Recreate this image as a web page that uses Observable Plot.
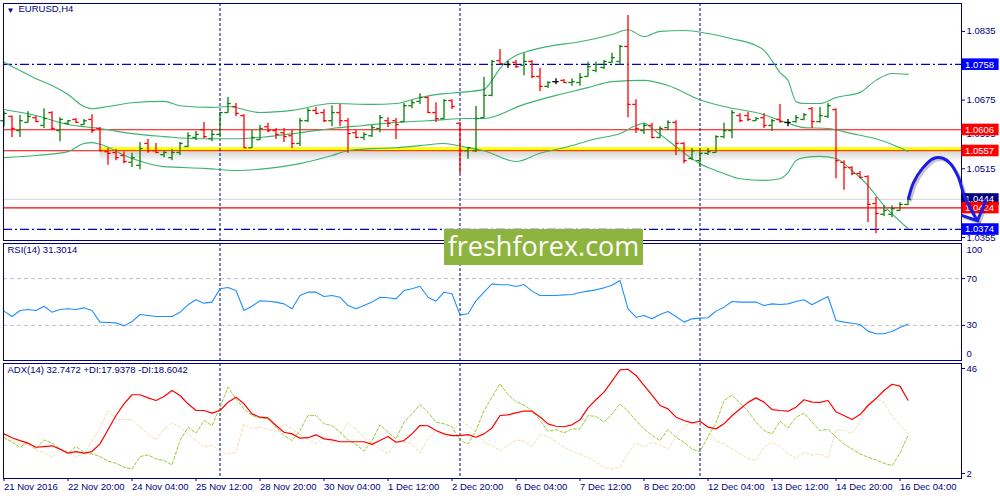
<!DOCTYPE html>
<html>
<head>
<meta charset="utf-8">
<script src="https://cdn.jsdelivr.net/npm/d3@7"></script>
<script src="https://cdn.jsdelivr.net/npm/@observablehq/plot@0.6"></script>
<style>
  body { margin: 0; background: #fff; }
  #chart { position: relative; width: 1000px; height: 500px; overflow: hidden; background: #fff; }
  #chart .panel { position: absolute; left: 0; }
  .wm { position: absolute; left: 444px; top: 229px; width: 199px; height: 36px; background: #8db43e;
        color: #fff; font: 27px "Open Sans", sans-serif; line-height: 33px; text-align: center; }
</style>
</head>
<body>
<div id="chart">
  <div class="panel" id="main" style="top:0"></div>
  <div class="panel" id="rsi" style="top:242px"></div>
  <div class="panel" id="adx" style="top:362px"></div>
  <div class="wm">freshforex.com</div>
</div>
<script>
// EURUSD H4 bars, one per 4 hours from 21 Nov 12:00 to 16 Dec 08:00
const barOpen = [1.0627,1.0637,1.0604,1.0623,1.0634,1.0616,1.0646,1.0604,1.0621,1.0630,
  1.0618,1.0630,1.0609,1.0555,1.0553,1.0546,1.0530,1.0523,1.0574,1.0557,
  1.0548,1.0541,1.0553,1.0567,1.0588,1.0606,1.0585,1.0595,1.0646,1.0660,
  1.0639,1.0564,1.0583,1.0613,1.0604,1.0599,1.0592,1.0574,1.0627,1.0651,
  1.0646,1.0627,1.0646,1.0627,1.0599,1.0588,1.0592,1.0609,1.0627,1.0627,
  1.0625,1.0662,1.0672,1.0681,1.0646,1.0632,1.0674,1.0621,1.0557,1.0557,
  1.0634,1.0686,1.0767,1.0758,1.0763,1.0756,1.0765,1.0730,1.0707,1.0718,
  1.0721,1.0716,1.0716,1.0730,1.0744,1.0751,1.0763,1.0765,1.0800,1.0665,
  1.0604,1.0616,1.0588,1.0611,1.0623,1.0574,1.0539,1.0534,1.0551,1.0553,
  1.0590,1.0604,1.0639,1.0639,1.0627,1.0634,1.0616,1.0630,1.0623,1.0625,
  1.0630,1.0655,1.0625,1.0637,1.0653,1.0530,1.0518,1.0504,1.0497,1.0434,
  1.0409,1.0409,1.0418,1.0432];
const barHigh = [1.0648,1.0638,1.0639,1.0648,1.0637,1.0655,1.0648,1.0634,1.0627,1.0632,
  1.0630,1.0641,1.0611,1.0562,1.0560,1.0555,1.0551,1.0576,1.0583,1.0574,
  1.0557,1.0560,1.0576,1.0599,1.0602,1.0623,1.0604,1.0646,1.0681,1.0667,
  1.0641,1.0604,1.0616,1.0621,1.0609,1.0609,1.0606,1.0632,1.0655,1.0658,
  1.0653,1.0662,1.0665,1.0632,1.0604,1.0599,1.0616,1.0639,1.0634,1.0632,
  1.0667,1.0674,1.0690,1.0683,1.0669,1.0676,1.0676,1.0623,1.0564,1.0660,
  1.0728,1.0767,1.0793,1.0765,1.0767,1.0784,1.0767,1.0749,1.0718,1.0725,
  1.0723,1.0725,1.0737,1.0763,1.0763,1.0767,1.0784,1.0802,1.0872,1.0676,
  1.0621,1.0621,1.0613,1.0627,1.0627,1.0576,1.0562,1.0557,1.0562,1.0592,
  1.0621,1.0651,1.0644,1.0646,1.0634,1.0644,1.0630,1.0665,1.0630,1.0639,
  1.0644,1.0658,1.0658,1.0667,1.0655,1.0534,1.0520,1.0509,1.0499,1.0448,
  1.0429,1.0429,1.0436,1.0446];
const barLow = [1.0613,1.0588,1.0588,1.0621,1.0623,1.0609,1.0604,1.0578,1.0616,1.0621,
  1.0616,1.0597,1.0555,1.0523,1.0534,1.0527,1.0518,1.0513,1.0551,1.0551,
  1.0541,1.0534,1.0546,1.0564,1.0581,1.0585,1.0578,1.0588,1.0644,1.0637,
  1.0562,1.0562,1.0581,1.0599,1.0583,1.0576,1.0562,1.0567,1.0623,1.0641,
  1.0623,1.0613,1.0613,1.0551,1.0585,1.0581,1.0588,1.0599,1.0611,1.0583,
  1.0623,1.0655,1.0665,1.0644,1.0623,1.0630,1.0653,1.0504,1.0537,1.0553,
  1.0632,1.0683,1.0760,1.0749,1.0749,1.0732,1.0725,1.0695,1.0702,1.0711,
  1.0714,1.0707,1.0707,1.0728,1.0739,1.0746,1.0760,1.0756,1.0634,1.0597,
  1.0595,1.0585,1.0585,1.0604,1.0546,1.0527,1.0534,1.0518,1.0546,1.0551,
  1.0585,1.0585,1.0623,1.0625,1.0625,1.0609,1.0602,1.0621,1.0613,1.0621,
  1.0627,1.0609,1.0621,1.0632,1.0492,1.0465,1.0499,1.0492,1.0390,1.0364,
  1.0404,1.0401,1.0416,1.0429];
const barClose = [1.0644,1.0609,1.0627,1.0637,1.0625,1.0632,1.0609,1.0630,1.0627,1.0623,
  1.0627,1.0604,1.0557,1.0551,1.0541,1.0532,1.0541,1.0562,1.0557,1.0553,
  1.0553,1.0553,1.0574,1.0592,1.0595,1.0590,1.0595,1.0646,1.0667,1.0644,
  1.0564,1.0588,1.0609,1.0604,1.0595,1.0590,1.0574,1.0627,1.0651,1.0644,
  1.0627,1.0646,1.0627,1.0597,1.0588,1.0595,1.0611,1.0634,1.0621,1.0618,
  1.0662,1.0669,1.0681,1.0646,1.0632,1.0674,1.0660,1.0557,1.0564,1.0632,
  1.0686,1.0765,1.0760,1.0758,1.0753,1.0765,1.0730,1.0707,1.0716,1.0718,
  1.0716,1.0718,1.0728,1.0753,1.0758,1.0765,1.0774,1.0800,1.0665,1.0609,
  1.0616,1.0588,1.0609,1.0623,1.0574,1.0534,1.0557,1.0551,1.0555,1.0590,
  1.0604,1.0646,1.0627,1.0630,1.0632,1.0616,1.0627,1.0625,1.0623,1.0634,
  1.0641,1.0625,1.0639,1.0662,1.0534,1.0518,1.0504,1.0495,1.0432,1.0411,
  1.0418,1.0422,1.0432,1.0444];

// Bollinger bands, [bar, price]
const bandUpper = [[0,1.0763],[2,1.0744],[4,1.0725],[6,1.0709],[8,1.0688],[10,1.0660],[11,1.0655],[13,1.0660],
  [16,1.0669],[20,1.0672],[22,1.0662],[26,1.0658],[28,1.0660],[32,1.0646],[36,1.0651],[41,1.0667],[46,1.0665],
  [49,1.0667],[52,1.0681],[55,1.0690],[57,1.0693],[60,1.0700],[61,1.0721],[62,1.0749],[63,1.0767],[64,1.0779],
  [65,1.0786],[68,1.0800],[72,1.0811],[76,1.0828],[78,1.0839],[80,1.0823],[82,1.0835],[85,1.0837],[88,1.0830],
  [91,1.0818],[94,1.0802],[95,1.0791],[96,1.0767],[97,1.0739],[98,1.0721],[99,1.0672],[100,1.0667],[102,1.0667],
  [104,1.0681],[107,1.0693],[109,1.0721],[111,1.0737],[113,1.0735]];
const bandMiddle = [[0,1.0653],[4,1.0639],[8,1.0618],[12,1.0609],[16,1.0597],[20,1.0590],[24,1.0585],[29,1.0585],
  [33,1.0590],[37,1.0599],[41,1.0609],[45,1.0616],[49,1.0623],[53,1.0627],[58,1.0632],[60,1.0632],[65,1.0665],
  [69,1.0686],[73,1.0704],[76,1.0718],[80,1.0721],[83,1.0709],[87,1.0676],[90,1.0660],[95,1.0641],[98,1.0621],
  [100,1.0611],[103,1.0609],[106,1.0597],[109,1.0585],[112,1.0564],[113,1.0555]];
const bandLower = [[0,1.0541],[4,1.0546],[8,1.0555],[10,1.0574],[11,1.0576],[12,1.0572],[16,1.0539],[20,1.0520],
  [25,1.0516],[29,1.0511],[33,1.0516],[37,1.0527],[41,1.0546],[43,1.0557],[46,1.0562],[49,1.0564],[52,1.0569],
  [55,1.0574],[58,1.0564],[60,1.0557],[64,1.0532],[67,1.0551],[70,1.0564],[74,1.0585],[77,1.0597],[79,1.0616],
  [80,1.0621],[81,1.0609],[83,1.0581],[87,1.0527],[88,1.0518],[90,1.0504],[92,1.0492],[95,1.0488],[97,1.0492],
  [98,1.0506],[99,1.0534],[100,1.0541],[102,1.0544],[104,1.0539],[106,1.0511],[108,1.0476],[110,1.0429],[113,1.0376]];

const rsi = [42.2,37.6,42.7,43.6,42.7,46.4,41.3,43.6,44.2,43.6,45.0,42.7,32.8,32.5,32.2,29.6,33.3,39.3,38.5,37.6,
  37.6,37.6,41.3,47.6,51.9,49.0,49.9,61.3,62.4,59.8,42.7,46.4,51.0,50.7,49.9,48.4,44.2,55.6,58.4,58.4,
  54.7,55.6,54.1,47.0,44.2,47.0,49.9,54.1,53.6,52.7,59.8,61.3,63.5,54.1,50.7,58.4,57.0,39.0,39.9,51.0,
  58.4,65.5,64.7,64.7,63.2,64.9,59.3,55.6,55.6,55.6,56.1,56.4,58.1,59.3,60.4,62.1,64.4,68.4,44.2,37.0,
  38.5,35.6,39.3,41.9,37.6,32.8,35.6,36.2,36.5,42.2,45.6,50.4,49.9,49.9,49.9,47.0,48.4,47.9,48.4,50.4,
  51.9,47.6,51.3,54.7,34.2,32.8,31.9,30.8,25.1,22.8,22.8,24.8,28.2,31.3];
const adx = [18.6,17.0,15.8,14.7,13.0,13.3,13.6,12.2,10.5,11.2,10.5,11.2,14.4,20.3,26.3,31.2,35.0,35.0,33.7,32.6,
  34.3,36.8,34.7,31.2,28.4,28.4,27.3,28.4,31.9,34.0,31.2,27.0,25.6,25.3,22.1,19.3,18.6,16.8,17.0,18.2,
  16.5,16.1,15.3,15.3,15.3,15.3,14.2,15.8,17.5,15.1,15.8,18.6,22.1,22.0,20.0,18.6,17.9,17.9,18.3,17.2,
  18.6,21.1,26.3,26.6,27.4,28.2,28.1,25.7,22.8,21.8,21.6,22.4,24.5,29.5,32.9,36.1,40.7,45.4,45.7,43.1,
  38.9,34.8,30.5,29.1,25.6,24.2,23.2,23.9,21.4,20.7,22.8,26.2,29.0,31.8,33.7,31.9,28.8,28.4,28.1,29.8,
  32.9,31.9,31.8,32.6,27.8,26.3,24.6,26.7,30.5,33.4,36.8,39.4,38.6,32.7];
const plusDI = [17.2,15.1,13.0,15.1,12.3,16.1,14.7,12.3,10.5,13.3,10.9,10.2,9.1,7.2,6.3,4.6,3.9,9.1,9.8,8.1,
  7.4,5.6,15.8,21.4,18.9,24.2,22.1,29.8,38.2,33.3,29.1,26.3,25.3,24.9,21.4,17.9,15.8,20.0,26.3,26.3,
  22.8,22.1,19.3,16.1,14.2,11.4,15.8,22.4,19.3,16.5,23.5,27.0,30.8,27.7,23.5,22.8,21.7,15.8,14.4,20.0,
  28.4,34.0,39.6,35.1,32.2,30.6,28.4,24.2,19.7,20.4,19.0,20.7,20.7,26.3,25.9,23.5,27.0,31.2,28.1,24.2,
  20.7,18.0,15.8,20.4,17.2,15.1,12.3,11.1,17.5,23.1,32.6,34.8,31.5,28.1,23.5,20.0,18.6,23.9,21.0,25.6,
  27.3,23.6,19.9,20.6,17.2,14.4,12.3,10.2,8.8,7.7,6.3,5.3,10.5,17.9];
const minusDI = [16.5,15.8,14.2,14.4,11.6,10.9,8.8,12.3,10.9,9.1,10.2,15.8,21.1,28.4,24.6,24.6,24.5,21.4,18.6,16.1,
  20.7,23.2,21.4,18.6,15.8,13.0,13.7,11.4,10.2,10.9,22.8,20.7,21.4,20.7,19.3,22.8,20.7,18.3,16.1,14.4,
  17.2,14.7,18.6,23.1,20.7,17.2,14.4,12.3,10.2,15.1,15.1,14.4,10.5,16.5,20.0,17.2,18.6,24.2,22.1,19.3,
  15.1,13.7,11.6,13.7,16.1,15.6,13.3,18.3,17.5,15.4,13.0,11.4,10.2,8.6,6.9,4.6,3.8,4.6,10.6,15.0,
  13.0,15.1,13.9,12.1,17.6,21.7,23.5,22.3,19.7,15.8,14.4,12.3,10.4,8.3,7.4,13.0,15.1,13.3,10.2,8.3,
  10.9,9.7,10.2,8.4,20.0,20.3,18.6,23.5,31.2,33.3,31.9,25.9,22.4,18.6];

const dateTicks = [0,8,16,24,32,40,48,56,64,72,80,88,96,104,112];
const dateLabels = ["21 Nov 2016","22 Nov 20:00","24 Nov 04:00","25 Nov 12:00","28 Nov 20:00","30 Nov 04:00",
  "1 Dec 12:00","2 Dec 20:00","6 Dec 04:00","7 Dec 12:00","8 Dec 20:00","12 Dec 04:00","13 Dec 12:00",
  "14 Dec 20:00","16 Dec 04:00"];
const weekStarts = [27, 57, 87];
// 1.0435 and 1.0755 sit fully under price tags in the reference, so only these are labelled
const priceTicks = [1.0355, 1.0515, 1.0595, 1.0675, 1.0835];
const redLevels = [1.0606, 1.0557, 1.0424];
const blueLevels = [1.0758, 1.0374];
const bidLevel = 1.0444;
const trendLevel = 1.0557;
const trendStart = 12;
const tagValues = [1.0758, 1.0606, 1.0557, 1.0444, 1.0424, 1.0374];
const tagColors = ["#0000ff", "#ff0000", "#ff0000", "#00007a", "#ff0000", "#0000ff"];
const forecastX = [113.06, 113.69, 114.81, 116.19, 117.44, 118.31, 119.31, 119.94, 120.81, 121.69];
const forecastY = [1.0446, 1.0483, 1.0516, 1.0539, 1.0539, 1.0527, 1.0495, 1.0457, 1.0422, 1.0394];
const arrowX = [119.8, 121.69, 122.7];
const arrowY = [1.0406, 1.0394, 1.0441];
const rsiLevels = [30, 70];
const adxTicks = [2, 46];

const bars = barOpen.map((o, i) => ({i, o, h: barHigh[i], l: barLow[i], c: barClose[i]}));
const barColor = d => d.c > d.o ? "#0b7d0b" : d.c < d.o ? "#ff0000" : "#000000";
const tags = tagValues.map((v, k) => ({v, bg: tagColors[k]}));
const forecast = forecastX.map((x, k) => ({x, y: forecastY[k]}));
const arrow = arrowX.map((x, k) => ({x, y: arrowY[k]}));

const xDomain = [-0.0625, 119.6875];
const xEnd = xDomain[1];
const navy = "#000080";
const style = {fontFamily: "'Liberation Sans', Arial, sans-serif", fontSize: "9.5px", color: navy, background: "transparent"};
const common = {width: 1000, marginLeft: 3, marginRight: 39, style, color: {type: "identity"}};
const sep = () => Plot.ruleX(weekStarts, {stroke: navy, strokeDasharray: "3,2"});

const main = Plot.plot({
  ...common,
  height: 242, marginTop: 3, marginBottom: 2,
  x: {domain: xDomain, axis: null},
  y: {domain: [1.0348, 1.0900], axis: null},
  marks: [
    Plot.ruleY([bidLevel], {stroke: "#d3d3d3"}),
    ...[2, 4, 6, 8].map((k, j) => Plot.ruleY([trendLevel], {x1: trendStart, x2: xEnd, dy: k, stroke: "#000", strokeOpacity: 0.14 - j * 0.03, strokeWidth: 2})),
    Plot.ruleY([trendLevel], {x1: trendStart, x2: xEnd, dy: -3, stroke: "#000", strokeOpacity: 0.05, strokeWidth: 2}),
    Plot.ruleY([trendLevel], {x1: trendStart, x2: xEnd, dy: -1.5, stroke: "#ffff00", strokeWidth: 4}),
    Plot.ruleY(redLevels, {stroke: "#ff0000", strokeWidth: 1.2}),
    Plot.ruleY(blueLevels, {stroke: "#0000cd", strokeWidth: 1.2, strokeDasharray: "9,3,2,3"}),
    sep(),
    Plot.line(bandUpper, {x: d => d[0], y: d => d[1], stroke: "#3cb371", strokeWidth: 1.1, curve: "monotone-x"}),
    Plot.line(bandMiddle, {x: d => d[0], y: d => d[1], stroke: "#3cb371", strokeWidth: 1.1, curve: "monotone-x"}),
    Plot.line(bandLower, {x: d => d[0], y: d => d[1], stroke: "#3cb371", strokeWidth: 1.1, curve: "monotone-x"}),
    Plot.ruleX(bars, {x: "i", y1: "l", y2: "h", stroke: barColor, strokeWidth: 1.3}),
    Plot.ruleY(bars, {y: "o", x1: d => d.i - 0.4, x2: "i", stroke: barColor, strokeWidth: 1.3}),
    Plot.ruleY(bars, {y: "c", x1: "i", x2: d => d.i + 0.4, stroke: barColor, strokeWidth: 1.3}),
    Plot.frame({stroke: navy}),
    Plot.axisY(priceTicks, {anchor: "right", tickSize: 3, tickPadding: 2, tickFormat: d => d.toFixed(4)}),
    Plot.rect(tags, {x1: xEnd + 0.06, x2: xEnd + 4.7, y1: d => d.v - 0.0014, y2: d => d.v + 0.0013, fill: "bg"}),
    Plot.text(tags, {x: xEnd + 0.45, y: "v", text: d => d.v.toFixed(4), fill: "#fff", textAnchor: "start"}),
    Plot.line(forecast, {x: "x", y: "y", stroke: "#000", strokeOpacity: 0.22, strokeWidth: 3, dx: 2, dy: 2, curve: "catmull-rom"}),
    Plot.line(arrow, {x: "x", y: "y", stroke: "#000", strokeOpacity: 0.22, strokeWidth: 3, dx: 2, dy: 2}),
    Plot.line(forecast, {x: "x", y: "y", stroke: "#1c1ce6", strokeWidth: 3, curve: "catmull-rom"}),
    Plot.line(arrow, {x: "x", y: "y", stroke: "#1c1ce6", strokeWidth: 3}),
    Plot.text(["\u25BC"], {frameAnchor: "top-left", dx: 3, dy: 4, fontSize: 8, text: d => d}),
    Plot.text(["EURUSD,H4"], {frameAnchor: "top-left", dx: 15, dy: 2, text: d => d})
  ]
});

const rsiPlot = Plot.plot({
  ...common,
  height: 120, marginTop: 1, marginBottom: 2,
  x: {domain: xDomain, axis: null},
  y: {domain: [0, 100], axis: null},
  marks: [
    Plot.ruleY(rsiLevels, {stroke: "#c0c0c0", strokeDasharray: "4,3"}),
    sep(),
    Plot.line(rsi, {x: (d, i) => i, y: d => d, stroke: "#1e90ff", strokeWidth: 1.1}),
    Plot.frame({stroke: navy}),
    Plot.axisY(rsiLevels, {anchor: "right", tickSize: 3, tickPadding: 2}),
    Plot.text([100], {y: d => d, frameAnchor: "right", dx: 5, dy: 6, textAnchor: "start", text: d => String(d)}),
    Plot.text([0], {y: d => d, frameAnchor: "right", dx: 5, dy: -7, textAnchor: "start", text: d => String(d)}),
    Plot.text(["RSI(14) 31.3014"], {frameAnchor: "top-left", dx: 4, dy: 3, text: d => d})
  ]
});

const adxPlot = Plot.plot({
  ...common,
  height: 138, marginTop: 1, marginBottom: 22,
  x: {domain: xDomain, axis: null},
  y: {domain: [-0.1, 48.1], axis: null},
  marks: [
    sep(),
    Plot.line(minusDI, {x: (d, i) => i, y: d => d, stroke: "#f5deb3", strokeWidth: 1, strokeDasharray: "3,2"}),
    Plot.line(plusDI, {x: (d, i) => i, y: d => d, stroke: "#9acd32", strokeWidth: 1, strokeDasharray: "3,2"}),
    Plot.line(adx, {x: (d, i) => i, y: d => d, stroke: "#ff0000", strokeWidth: 1.2}),
    Plot.frame({stroke: navy}),
    Plot.axisY(adxTicks, {anchor: "right", tickSize: 3, tickPadding: 2}),
    Plot.axisX(dateTicks, {anchor: "bottom", tickSize: 3, tickPadding: 2, textAnchor: "start",
      tickFormat: d => dateLabels[dateTicks.indexOf(d)]}),
    Plot.text(["ADX(14) 32.7472 +DI:17.9378 -DI:18.6042"], {frameAnchor: "top-left", dx: 4, dy: 3, text: d => d})
  ]
});

d3.select("#main").append(() => main);
d3.select("#rsi").append(() => rsiPlot);
d3.select("#adx").append(() => adxPlot);
</script>
</body>
</html>
